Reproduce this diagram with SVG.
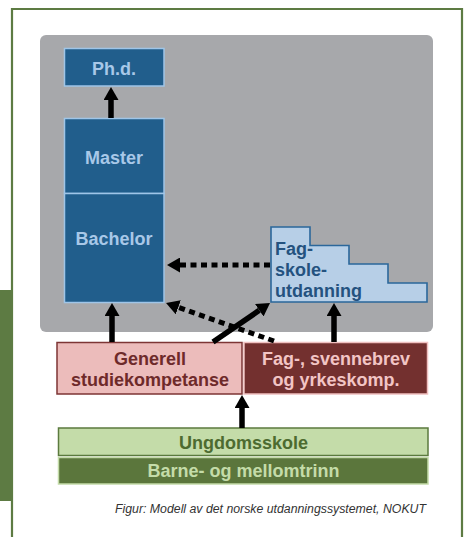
<svg xmlns="http://www.w3.org/2000/svg" width="466" height="537" viewBox="0 0 466 537">
<defs>
<style>
.t{font-family:"Liberation Sans",Arial,sans-serif;font-weight:bold;font-size:18px;text-anchor:middle}
.blue rect{fill:#215e8c;stroke:#9fc5e8;stroke-width:1.5}
.blue text{fill:#a8c8e8}
.sol{stroke:#000;stroke-width:5.5;fill:none}
.dot{stroke:#000;stroke-width:5;fill:none;stroke-dasharray:6 4.5}
</style>
<marker id="ah" viewBox="0 0 13 15" refX="0" refY="7.5" markerWidth="13" markerHeight="15" markerUnits="userSpaceOnUse" orient="auto">
<path d="M0,0 L13,7.5 L0,15 z" fill="#000"/>
</marker>
</defs>
<rect width="466" height="537" fill="#fff"/>
<g id="frame">
<rect x="0" y="290" width="12" height="211" fill="#5d7b43"/>
<path d="M12,537 L12,9 L462,9 L462,537" fill="none" stroke="#5d7b43" stroke-width="2.2"/>
<rect x="40" y="35" width="393" height="297" rx="6" fill="#a7a8ab"/>
</g>
<g id="phd" class="blue">
<rect x="64.5" y="48.5" width="99.5" height="37.5"/>
<text class="t" x="114" y="75">Ph.d.</text>
</g>
<g id="master" class="blue">
<rect x="64.5" y="118.5" width="99.5" height="75"/>
<text class="t" x="114" y="164">Master</text>
</g>
<g id="bachelor" class="blue">
<rect x="64.5" y="193.5" width="99.5" height="109"/>
<text class="t" x="114" y="245">Bachelor</text>
</g>
<g id="fagskole">
<path d="M271,227 L310,227 L310,245.5 L349,245.5 L349,264 L388,264 L388,283 L427,283 L427,302 L271,302 Z" fill="#b7cfe7" stroke="#2b679b" stroke-width="1.6"/>
<text class="t" x="275" y="255" style="text-anchor:start;fill:#24527f">Fag-</text>
<text class="t" x="275" y="276" style="text-anchor:start;fill:#24527f">skole-</text>
<text class="t" x="275" y="297" style="text-anchor:start;fill:#24527f">utdanning</text>
</g>
<g id="generell">
<rect x="57" y="342.5" width="185" height="51.5" fill="#ecbcbb" stroke="#7d3535" stroke-width="1.5"/>
<text class="t" x="150" y="365" fill="#6e2a2a">Generell</text>
<text class="t" x="150" y="386" fill="#6e2a2a">studiekompetanse</text>
</g>
<g id="fagbrev">
<rect x="244" y="342.5" width="183.5" height="51.5" fill="#73302f" stroke="#f0c0c0" stroke-width="1.5"/>
<text class="t" x="336" y="365" fill="#f2c5c5">Fag-, svennebrev</text>
<text class="t" x="336" y="386" fill="#f2c5c5">og yrkeskomp.</text>
</g>
<g id="ungdomsskole">
<rect x="58.5" y="428" width="369.5" height="27.5" fill="#c4dca9" stroke="#5b7a3e" stroke-width="1.5"/>
<text class="t" x="243.5" y="448.5" fill="#4d6b30">Ungdomsskole</text>
</g>
<g id="barne">
<rect x="58.5" y="457.5" width="369.5" height="26.5" fill="#5b763c" stroke="#c4dca9" stroke-width="1.5"/>
<text class="t" x="243.5" y="477" fill="#c4dca9">Barne- og mellomtrinn</text>
</g>
<g id="connectors">
<line class="sol" x1="111" y1="118" x2="111" y2="100" marker-end="url(#ah)"/>
<line class="sol" x1="112" y1="342" x2="112" y2="316" marker-end="url(#ah)"/>
<line class="sol" x1="334" y1="342" x2="334" y2="316" marker-end="url(#ah)"/>
<line class="sol" x1="242" y1="428" x2="242" y2="408" marker-end="url(#ah)"/>
<line class="sol" x1="213" y1="342" x2="259.3" y2="310.3" marker-end="url(#ah)"/>
<line class="dot" x1="270" y1="265" x2="180" y2="265" marker-end="url(#ah)"/>
<line class="dot" x1="274" y1="341" x2="178.3" y2="307.3" marker-end="url(#ah)"/>
</g>
<text x="426" y="512.5" style="font-family:'Liberation Sans',Arial,sans-serif;font-style:italic;font-size:12.3px;text-anchor:end;fill:#333">Figur: Modell av det norske utdanningssystemet, NOKUT</text>
</svg>
